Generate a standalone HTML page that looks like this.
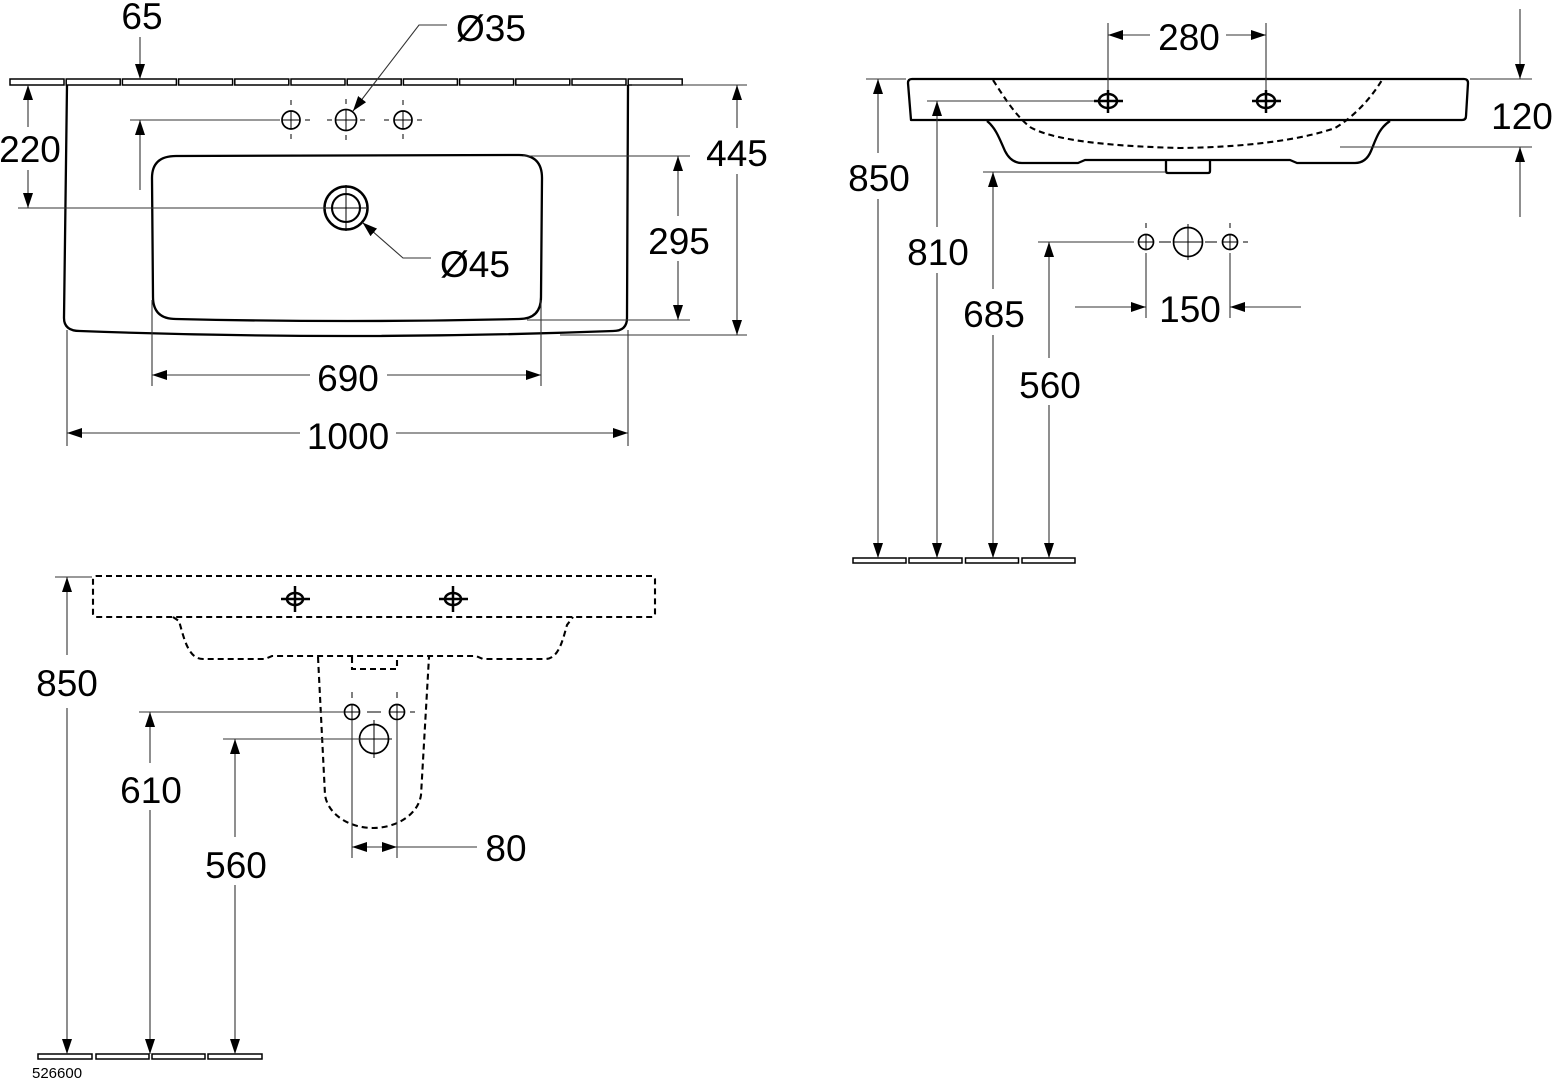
<!DOCTYPE html>
<html><head><meta charset="utf-8"><style>
html,body{margin:0;padding:0;background:#fff;}
svg{display:block;}
text{font-family:"Liberation Sans",sans-serif;font-size:37px;fill:#000;}
.d{stroke:#333;stroke-width:1.1;fill:none;}
.o{stroke:#000;stroke-width:2.3;fill:none;stroke-linejoin:round;}
.h{stroke:#000;stroke-width:1.5;fill:#fff;}
.c{stroke:#000;stroke-width:1.7;fill:none;}
.t{stroke:#000;stroke-width:1;fill:none;}
.k{stroke:#000;stroke-width:2.5;fill:none;}
.ds{stroke:#000;stroke-width:2.1;fill:none;stroke-dasharray:6 4;}
</style></head><body>
<svg width="1553" height="1080" viewBox="0 0 1553 1080" xmlns="http://www.w3.org/2000/svg">
<defs>
<marker id="a" markerUnits="userSpaceOnUse" markerWidth="16" markerHeight="11" refX="15" refY="5" orient="auto"><path d="M0,0 L15,5 L0,10 z" fill="#000"/></marker>
</defs>

<!-- ================= TOP-LEFT VIEW ================= -->
<g class="h">
<rect x="10" y="79" width="54" height="6"/><rect x="66.2" y="79" width="54" height="6"/><rect x="122.4" y="79" width="54" height="6"/><rect x="178.6" y="79" width="54" height="6"/><rect x="234.8" y="79" width="54" height="6"/><rect x="291" y="79" width="54" height="6"/><rect x="347.2" y="79" width="54" height="6"/><rect x="403.4" y="79" width="54" height="6"/><rect x="459.6" y="79" width="54" height="6"/><rect x="515.8" y="79" width="54" height="6"/><rect x="572" y="79" width="54" height="6"/><rect x="628.2" y="79" width="54" height="6"/>
</g>
<path class="o" d="M67,85 L64,318 Q64,331 80,331 Q348,341 613,331 Q627,331 627,318 L628,85"/>
<path class="o" d="M176,156 L519,155 Q542,155 542,178 L541,297 Q541,319 519,319 Q348,323 176,319 Q153,319 153,297 L152,178 Q152,156 176,156 Z"/>

<g class="c"><circle cx="291" cy="120" r="9"/><circle cx="346" cy="120" r="10.5"/><circle cx="403" cy="120" r="9"/></g>
<g class="t">
<line x1="282" y1="120" x2="300" y2="120"/><line x1="291" y1="111" x2="291" y2="129"/>
<line x1="305" y1="120" x2="310" y2="120"/><line x1="291" y1="100" x2="291" y2="105"/><line x1="291" y1="134" x2="291" y2="139"/>
<line x1="335.5" y1="120" x2="356.5" y2="120"/><line x1="346" y1="109.5" x2="346" y2="130.5"/>
<line x1="327" y1="120" x2="332" y2="120"/><line x1="360" y1="120" x2="365" y2="120"/><line x1="346" y1="99" x2="346" y2="104"/><line x1="346" y1="135" x2="346" y2="140"/>
<line x1="394" y1="120" x2="412" y2="120"/><line x1="403" y1="111" x2="403" y2="129"/>
<line x1="384" y1="120" x2="389" y2="120"/><line x1="417" y1="120" x2="422" y2="120"/><line x1="403" y1="100" x2="403" y2="105"/><line x1="403" y1="134" x2="403" y2="139"/>
</g>
<circle cx="346" cy="208" r="21.5" stroke="#000" stroke-width="2.5" fill="none"/>
<circle cx="346" cy="208" r="14" stroke="#000" stroke-width="2.1" fill="none"/>
<g class="t"><line x1="326" y1="208" x2="366" y2="208"/><line x1="346" y1="185" x2="346" y2="231"/></g>

<g class="d">
<line x1="140" y1="37" x2="140" y2="79" marker-end="url(#a)"/>
<line x1="140" y1="190" x2="140" y2="120" marker-end="url(#a)"/>
<line x1="130" y1="120" x2="280" y2="120"/>
<line x1="28" y1="127" x2="28" y2="85" marker-end="url(#a)"/>
<line x1="28" y1="170" x2="28" y2="208" marker-end="url(#a)"/>
<line x1="18" y1="208" x2="326" y2="208"/>
<line x1="737" y1="128" x2="737" y2="85" marker-end="url(#a)"/>
<line x1="737" y1="174" x2="737" y2="335" marker-end="url(#a)"/>
<line x1="632" y1="85" x2="747" y2="85"/>
<line x1="560" y1="335" x2="747" y2="335"/>
<line x1="678" y1="216" x2="678" y2="156" marker-end="url(#a)"/>
<line x1="678" y1="261" x2="678" y2="320" marker-end="url(#a)"/>
<line x1="523" y1="156" x2="690" y2="156"/>
<line x1="527" y1="320" x2="690" y2="320"/>
<line x1="310" y1="375" x2="152" y2="375" marker-end="url(#a)"/>
<line x1="387" y1="375" x2="541" y2="375" marker-end="url(#a)"/>
<line x1="152" y1="300" x2="152" y2="386"/>
<line x1="541" y1="300" x2="541" y2="386"/>
<line x1="300" y1="433" x2="67" y2="433" marker-end="url(#a)"/>
<line x1="396" y1="433" x2="628" y2="433" marker-end="url(#a)"/>
<line x1="67" y1="330" x2="67" y2="446"/>
<line x1="628" y1="330" x2="628" y2="446"/>
<polyline points="447,25 419,25 353,111" marker-end="url(#a)"/>
<polyline points="431,258 403,258 362.5,222.5" marker-end="url(#a)"/>
</g>
<text x="142" y="29" text-anchor="middle">65</text>
<text x="456" y="41">Ø35</text>
<text x="30" y="162" text-anchor="middle">220</text>
<text x="440" y="277">Ø45</text>
<text x="737" y="166" text-anchor="middle">445</text>
<text x="679" y="254" text-anchor="middle">295</text>
<text x="348" y="391" text-anchor="middle">690</text>
<text x="348" y="449" text-anchor="middle">1000</text>

<!-- ================= TOP-RIGHT VIEW ================= -->
<path class="o" d="M911,120 L908,83 Q908,79 912,79 L1464,79 Q1468,79 1468,83 L1466,116 Q1466,120 1462,120 Z"/>
<path class="o" d="M987,121 C996,128 1000,140 1005,151 Q1011,163 1022,163 L1078,163 L1085,160 L1290,160 L1297,163 L1355,163 Q1366,163 1371,151 C1376,139 1379,128 1390,121"/>
<path class="o" d="M1166,160 L1166,171 Q1166,173 1168,173 L1208,173 Q1210,173 1210,171 L1210,160"/>
<path class="ds" d="M993,80 C1004,97 1015,115 1030,127 C1050,139 1100,146 1180,148 C1260,147 1310,137 1335,128 C1352,118 1370,100 1382,80"/>
<g>
<ellipse cx="1108" cy="101" rx="9" ry="7" class="k"/>
<line x1="1094" y1="101" x2="1123" y2="101" class="k"/>
<line x1="1108" y1="90" x2="1108" y2="113" class="k"/>
<ellipse cx="1266" cy="101" rx="9" ry="7" class="k"/>
<line x1="1252" y1="101" x2="1281" y2="101" class="k"/>
<line x1="1266" y1="90" x2="1266" y2="113" class="k"/>
</g>
<g class="h"><rect x="853" y="558" width="53" height="5"/><rect x="909" y="558" width="53" height="5"/><rect x="965.5" y="558" width="53" height="5"/><rect x="1022" y="558" width="53" height="5"/></g>
<g class="c"><circle cx="1146" cy="242" r="7.5"/><circle cx="1188" cy="242" r="14.5"/><circle cx="1230" cy="242" r="7.5"/></g>
<g class="t">
<line x1="1138.5" y1="242" x2="1153.5" y2="242"/><line x1="1146" y1="234.5" x2="1146" y2="249.5"/>
<line x1="1146" y1="223" x2="1146" y2="228"/>
<line x1="1159" y1="242" x2="1171" y2="242"/>
<line x1="1174" y1="242" x2="1202" y2="242"/><line x1="1188" y1="224" x2="1188" y2="260"/>
<line x1="1205" y1="242" x2="1217" y2="242"/>
<line x1="1222.5" y1="242" x2="1237.5" y2="242"/><line x1="1230" y1="234.5" x2="1230" y2="249.5"/>
<line x1="1230" y1="223" x2="1230" y2="228"/>
<line x1="1243" y1="242" x2="1248" y2="242"/>
</g>
<g class="d">
<line x1="1108" y1="23" x2="1108" y2="90"/>
<line x1="1266" y1="23" x2="1266" y2="90"/>
<line x1="1150" y1="35" x2="1108" y2="35" marker-end="url(#a)"/>
<line x1="1226" y1="35" x2="1266" y2="35" marker-end="url(#a)"/>
<line x1="1520" y1="9" x2="1520" y2="79" marker-end="url(#a)"/>
<line x1="1520" y1="217" x2="1520" y2="147" marker-end="url(#a)"/>
<line x1="1470" y1="79" x2="1532" y2="79"/>
<line x1="1340" y1="147" x2="1532" y2="147"/>
<line x1="878" y1="153" x2="878" y2="79" marker-end="url(#a)"/>
<line x1="878" y1="199" x2="878" y2="558" marker-end="url(#a)"/>
<line x1="866" y1="79" x2="906" y2="79"/>
<line x1="937" y1="227" x2="937" y2="101" marker-end="url(#a)"/>
<line x1="937" y1="273" x2="937" y2="558" marker-end="url(#a)"/>
<line x1="927" y1="101" x2="1094" y2="101"/>
<line x1="993" y1="289" x2="993" y2="172" marker-end="url(#a)"/>
<line x1="993" y1="335" x2="993" y2="558" marker-end="url(#a)"/>
<line x1="983" y1="172" x2="1166" y2="172"/>
<line x1="1049" y1="358" x2="1049" y2="242" marker-end="url(#a)"/>
<line x1="1049" y1="405" x2="1049" y2="558" marker-end="url(#a)"/>
<line x1="1038" y1="242" x2="1134" y2="242"/>
<line x1="1146" y1="253" x2="1146" y2="318"/>
<line x1="1230" y1="253" x2="1230" y2="318"/>
<line x1="1075" y1="307" x2="1146" y2="307" marker-end="url(#a)"/>
<line x1="1301" y1="307" x2="1230" y2="307" marker-end="url(#a)"/>
</g>
<text x="1189" y="50" text-anchor="middle">280</text>
<text x="1522" y="129" text-anchor="middle">120</text>
<text x="879" y="191" text-anchor="middle">850</text>
<text x="938" y="265" text-anchor="middle">810</text>
<text x="994" y="327" text-anchor="middle">685</text>
<text x="1050" y="398" text-anchor="middle">560</text>
<text x="1190" y="322" text-anchor="middle">150</text>

<!-- ================= BOTTOM VIEW ================= -->
<rect x="93" y="576" width="562" height="41" rx="3" class="ds"/>
<path class="ds" d="M173,617 L179,621 C184,638 188,659 203,659 L265,659 L272,656 L476,656 L483,659 L545,659 C558,659 562,643 567,625 L573,617"/>
<path class="ds" d="M318,657 L325,795 C328,815 350,828 373,828 C396,828 418,815 421,795 L429,657"/>
<path class="ds" d="M352,657 L352,669 L397,669 L397,657"/>
<g>
<ellipse cx="295" cy="599" rx="8" ry="6" class="k"/>
<line x1="281" y1="599" x2="310" y2="599" class="k"/>
<line x1="295" y1="586" x2="295" y2="612" class="k"/>
<ellipse cx="453" cy="599" rx="8" ry="6" class="k"/>
<line x1="439" y1="599" x2="468" y2="599" class="k"/>
<line x1="453" y1="586" x2="453" y2="612" class="k"/>
</g>
<g class="c"><circle cx="352" cy="712" r="7.5"/><circle cx="397" cy="712" r="7.5"/><circle cx="374" cy="739" r="14.5"/></g>
<g class="t">
<line x1="344.5" y1="712" x2="359.5" y2="712"/><line x1="352" y1="704.5" x2="352" y2="719.5"/>
<line x1="352" y1="692" x2="352" y2="698"/>
<line x1="367" y1="712" x2="381" y2="712"/>
<line x1="389.5" y1="712" x2="404.5" y2="712"/><line x1="397" y1="704.5" x2="397" y2="719.5"/>
<line x1="397" y1="692" x2="397" y2="698"/>
<line x1="410" y1="712" x2="415" y2="712"/>
<line x1="360" y1="739" x2="392" y2="739"/><line x1="374" y1="720" x2="374" y2="758"/>
</g>
<g class="h"><rect x="38" y="1054" width="54" height="5"/><rect x="96" y="1054" width="53" height="5"/><rect x="152" y="1054" width="53" height="5"/><rect x="208" y="1054" width="54" height="5"/></g>
<g class="d">
<line x1="67" y1="655" x2="67" y2="577" marker-end="url(#a)"/>
<line x1="67" y1="708" x2="67" y2="1054" marker-end="url(#a)"/>
<line x1="55" y1="577" x2="92" y2="577"/>
<line x1="150" y1="763" x2="150" y2="712" marker-end="url(#a)"/>
<line x1="150" y1="810" x2="150" y2="1054" marker-end="url(#a)"/>
<line x1="139" y1="712" x2="344" y2="712"/>
<line x1="235" y1="837" x2="235" y2="739" marker-end="url(#a)"/>
<line x1="235" y1="885" x2="235" y2="1054" marker-end="url(#a)"/>
<line x1="223" y1="739" x2="360" y2="739"/>
<line x1="352" y1="720" x2="352" y2="858"/>
<line x1="397" y1="720" x2="397" y2="858"/>
<line x1="374" y1="847" x2="352" y2="847" marker-end="url(#a)"/>
<line x1="374" y1="847" x2="397" y2="847" marker-end="url(#a)"/>
<line x1="397" y1="847" x2="477" y2="847"/>
</g>
<text x="67" y="696" text-anchor="middle">850</text>
<text x="151" y="803" text-anchor="middle">610</text>
<text x="236" y="878" text-anchor="middle">560</text>
<text x="506" y="861" text-anchor="middle">80</text>
<text x="32" y="1078" style="font-size:15px">526600</text>
</svg>
</body></html>
